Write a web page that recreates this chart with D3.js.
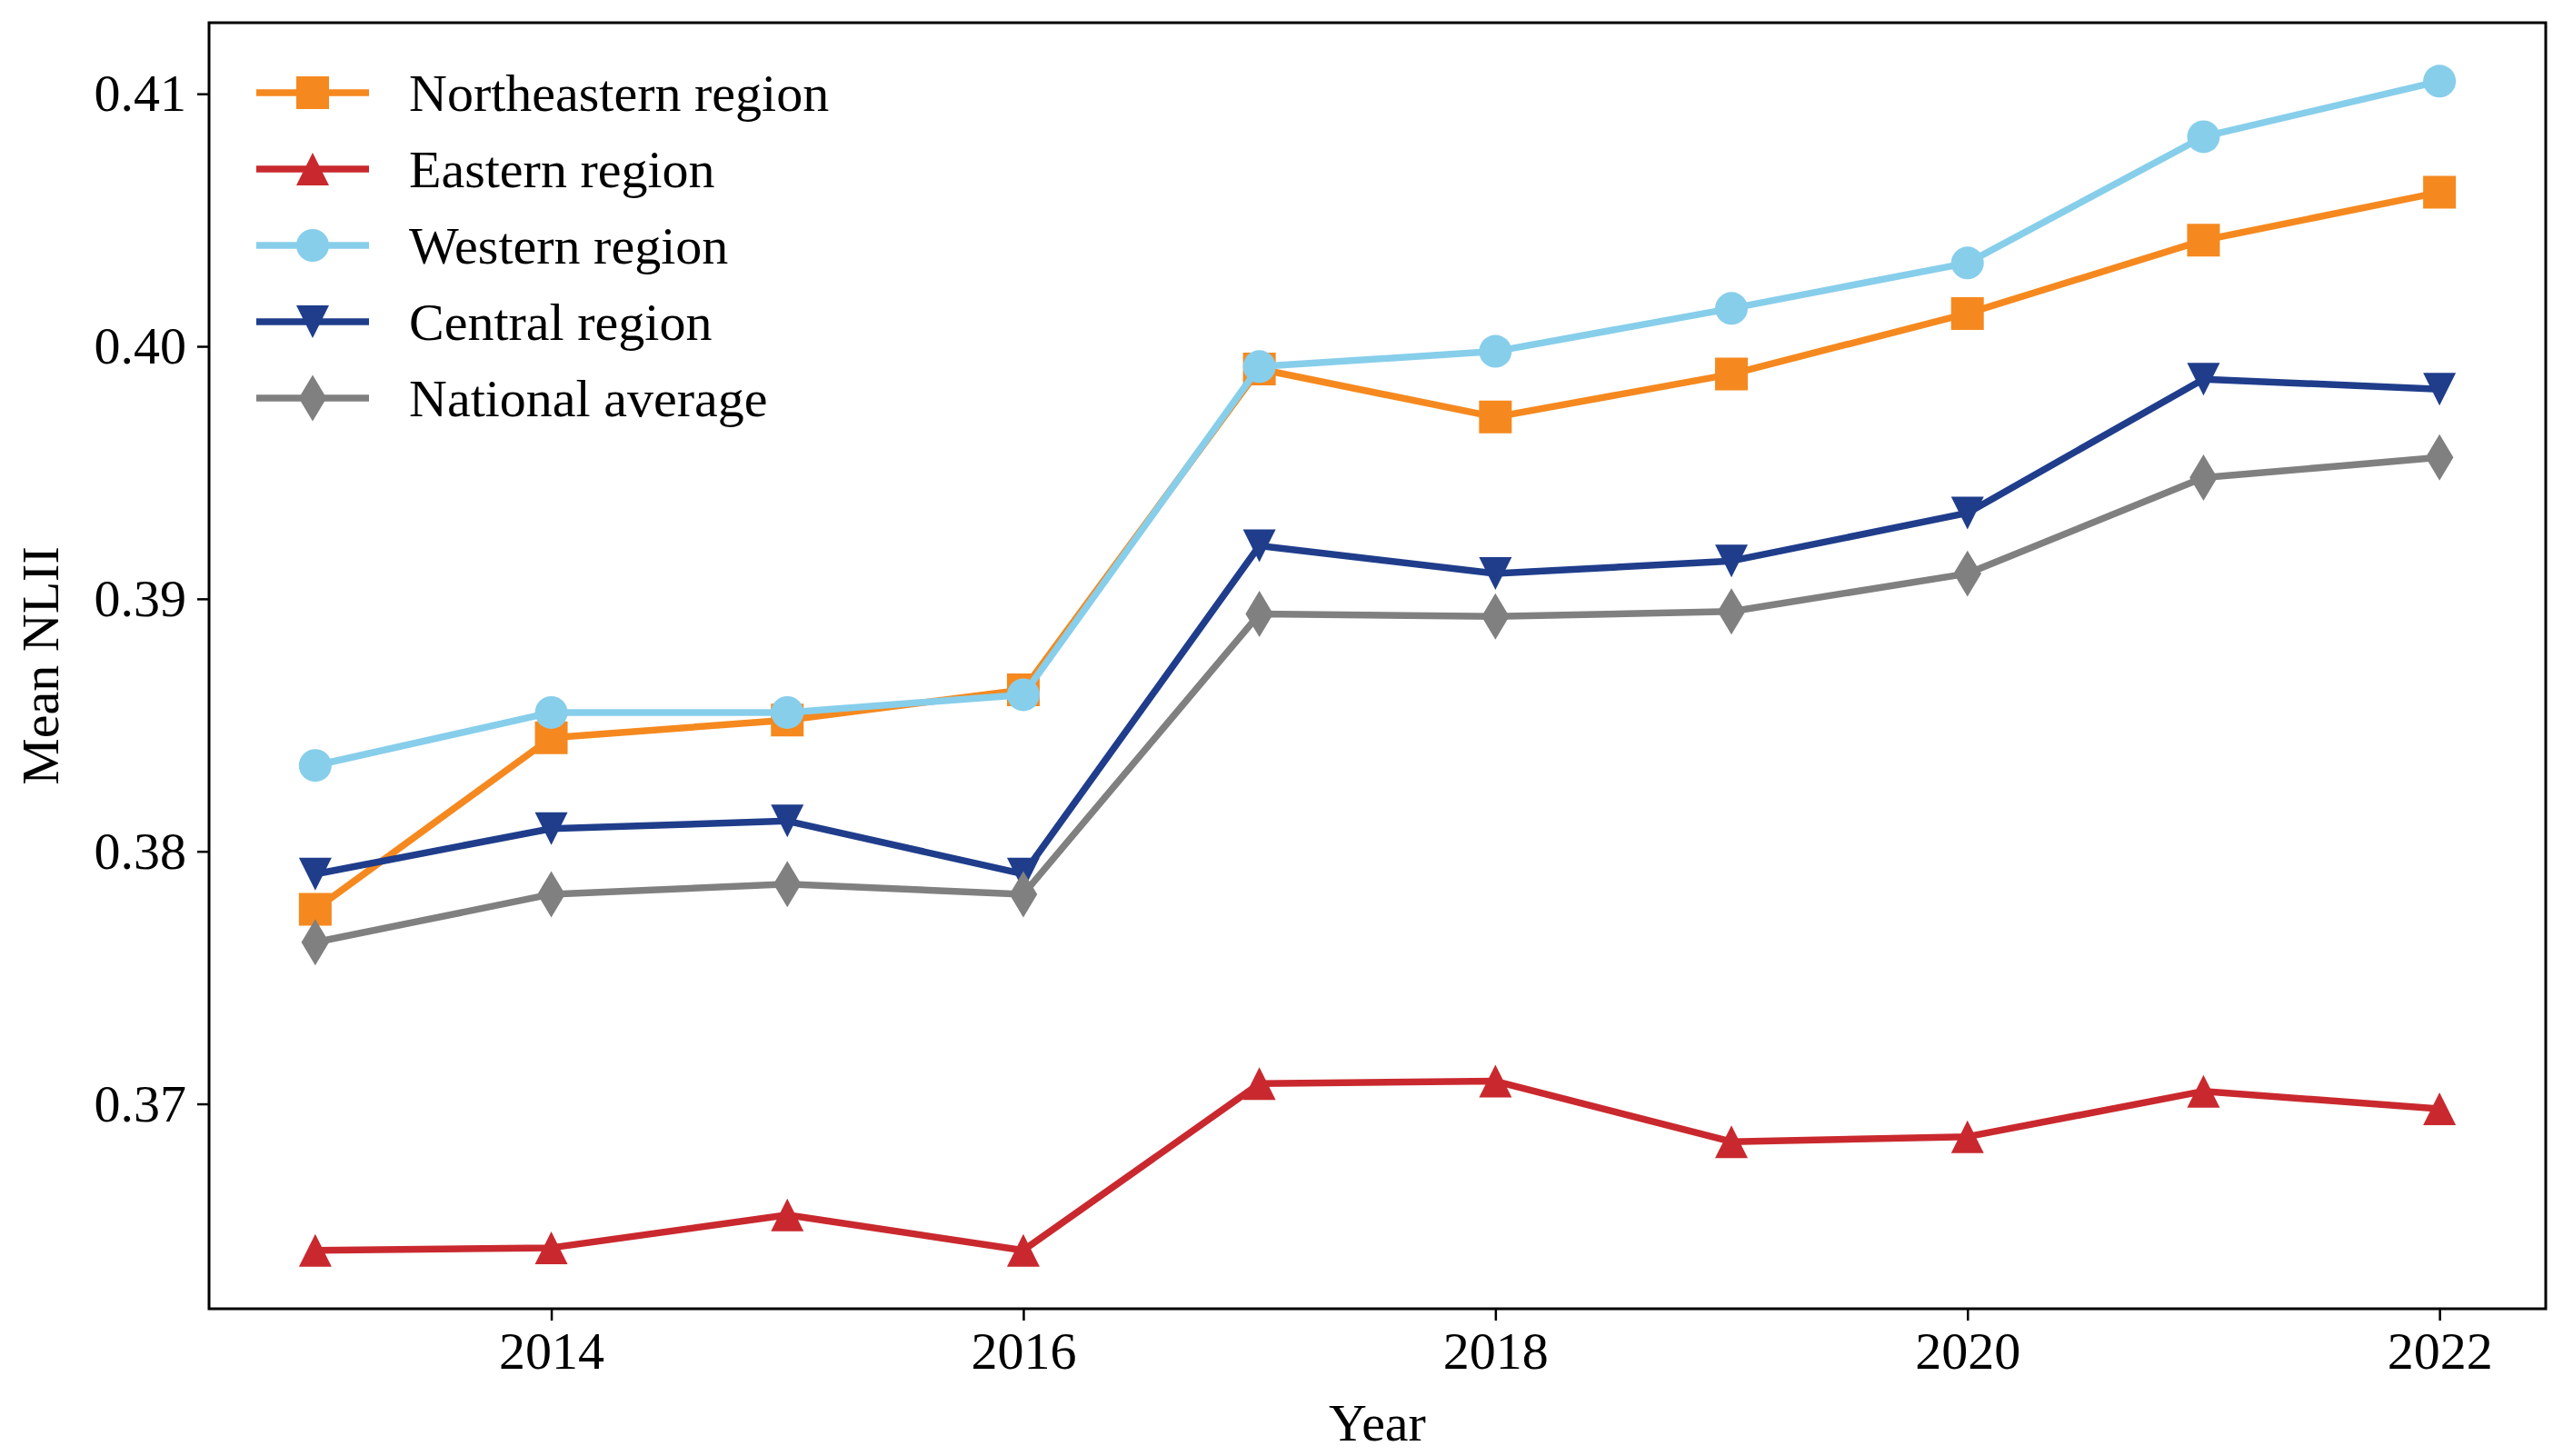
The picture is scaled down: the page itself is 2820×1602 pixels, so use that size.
<!DOCTYPE html>
<html lang="en">
<head>
  <meta charset="UTF-8">
  <title>Mean NLII by region</title>
  <script src="https://cdnjs.cloudflare.com/ajax/libs/d3/7.8.5/d3.min.js"></script>
  <style>
    body { margin: 0; background: white; }
    #chart text { font-family: "Liberation Serif", "Times New Roman", serif; fill: #000; }
  </style>
</head>
<body>
  <div id="chart"></div>

  <script>
    const years = [2013, 2014, 2015, 2016, 2017, 2018, 2019, 2020, 2021, 2022];
    const northeastern = [0.3777, 0.3845, 0.3852, 0.3864, 0.3991, 0.3972, 0.3989, 0.4013, 0.4042, 0.4061];
    const eastern      = [0.3642, 0.3643, 0.3656, 0.3642, 0.3708, 0.3709, 0.3685, 0.3687, 0.3705, 0.3698];
    const western      = [0.3834, 0.3855, 0.3855, 0.3862, 0.3992, 0.3998, 0.4015, 0.4033, 0.4083, 0.4105];
    const central      = [0.3791, 0.3809, 0.3812, 0.3791, 0.3921, 0.3910, 0.3915, 0.3934, 0.3987, 0.3983];
    const national     = [0.3764, 0.3783, 0.3787, 0.3783, 0.3894, 0.3893, 0.3895, 0.3910, 0.3948, 0.3956];

    const xTicks = [2014, 2016, 2018, 2020, 2022];
    const yTicks = [0.37, 0.38, 0.39, 0.40, 0.41];
    const yTickLabels = ["0.37", "0.38", "0.39", "0.40", "0.41"];

    const seriesNames = ["Northeastern region", "Eastern region", "Western region", "Central region", "National average"];
    const seriesColors = ["#f5891f", "#c9292e", "#87ceeb", "#1f3d8b", "#808080"];
    const seriesMarkers = ["square", "triangleUp", "circle", "triangleDown", "thinDiamond"];
    const seriesValues = [northeastern, eastern, western, central, national];

    const width = 2820, height = 1602;
    const margin = { top: 25, right: 19, bottom: 162, left: 230 };
    const plotW = width - margin.left - margin.right;
    const plotH = height - margin.top - margin.bottom;

    const svg = d3.select("#chart")
      .append("svg")
        .attr("width", width)
        .attr("height", height);

    const g = svg.append("g")
      .attr("transform", `translate(${margin.left},${margin.top})`);

    // matplotlib-style 5% padding
    const xPad = (d3.max(years) - d3.min(years)) * 0.05;
    const allVals = seriesValues.flat();
    const yPad = (d3.max(allVals) - d3.min(allVals)) * 0.05;

    const x = d3.scaleLinear()
      .domain([d3.min(years) - xPad, d3.max(years) + xPad])
      .range([0, plotW]);
    const y = d3.scaleLinear()
      .domain([d3.min(allVals) - yPad, d3.max(allVals) + yPad])
      .range([plotH, 0]);

    const fontSize = 58;
    const ms = 36;
    const lw = 7.5;

    // axes
    const xAxis = g.append("g")
      .attr("transform", `translate(0,${plotH})`)
      .call(d3.axisBottom(x).tickValues(xTicks).tickFormat(d3.format("d")).tickSize(13).tickPadding(12));
    const yAxis = g.append("g")
      .call(d3.axisLeft(y).tickValues(yTicks).tickFormat((d, i) => yTickLabels[i]).tickSize(13).tickPadding(12));

    [xAxis, yAxis].forEach(ax => {
      ax.select(".domain").remove();
      ax.selectAll(".tick line").attr("stroke", "#000").attr("stroke-width", 2.5);
      ax.selectAll(".tick text").attr("font-size", fontSize);
    });

    // frame
    g.append("rect")
      .attr("x", 0).attr("y", 0)
      .attr("width", plotW).attr("height", plotH)
      .attr("fill", "none")
      .attr("stroke", "#000")
      .attr("stroke-width", 3);

    // axis labels
    svg.append("text")
      .attr("x", margin.left + plotW / 2)
      .attr("y", 1585)
      .attr("text-anchor", "middle")
      .attr("font-size", fontSize)
      .text("Year");

    svg.append("text")
      .attr("transform", `translate(64,${margin.top + plotH / 2}) rotate(-90)`)
      .attr("text-anchor", "middle")
      .attr("font-size", fontSize)
      .text("Mean NLII");

    function markerPath(type) {
      const h = ms / 2;
      switch (type) {
        case "square":
          return `M${-h},${-h}H${h}V${h}H${-h}Z`;
        case "triangleUp":
          return `M0,${-h}L${h},${h}L${-h},${h}Z`;
        case "triangleDown":
          return `M0,${h}L${h},${-h}L${-h},${-h}Z`;
        case "thinDiamond": {
          const dy = ms * Math.SQRT2 / 2, dx = dy * 0.6;
          return `M0,${-dy}L${dx},0L0,${dy}L${-dx},0Z`;
        }
        default:
          return null;
      }
    }

    function drawMarker(sel, type, color) {
      if (type === "circle") {
        sel.append("circle").attr("r", ms / 2).attr("fill", color);
      } else {
        sel.append("path").attr("d", markerPath(type)).attr("fill", color);
      }
    }

    const line = d3.line()
      .x(d => x(d.year))
      .y(d => y(d.value));

    seriesValues.forEach((vals, si) => {
      const data = years.map((yr, i) => ({ year: yr, value: vals[i] }));
      const color = seriesColors[si];
      const sg = g.append("g");
      sg.append("path")
        .datum(data)
        .attr("d", line)
        .attr("fill", "none")
        .attr("stroke", color)
        .attr("stroke-width", lw)
        .attr("stroke-linejoin", "round");
      data.forEach(d => {
        const m = sg.append("g").attr("transform", `translate(${x(d.year)},${y(d.value)})`);
        drawMarker(m, seriesMarkers[si], color);
      });
    });

    // legend
    const legend = g.append("g").attr("transform", "translate(52,77)");
    seriesNames.forEach((name, i) => {
      const row = legend.append("g").attr("transform", `translate(0,${i * 84})`);
      row.append("line")
        .attr("x1", 0).attr("x2", 124)
        .attr("y1", 0).attr("y2", 0)
        .attr("stroke", seriesColors[i])
        .attr("stroke-width", lw);
      const m = row.append("g").attr("transform", "translate(62,0)");
      drawMarker(m, seriesMarkers[i], seriesColors[i]);
      row.append("text")
        .attr("x", 168)
        .attr("y", 0)
        .attr("dy", "0.35em")
        .attr("font-size", fontSize)
        .text(name);
    });
  </script>
</body>
</html>
